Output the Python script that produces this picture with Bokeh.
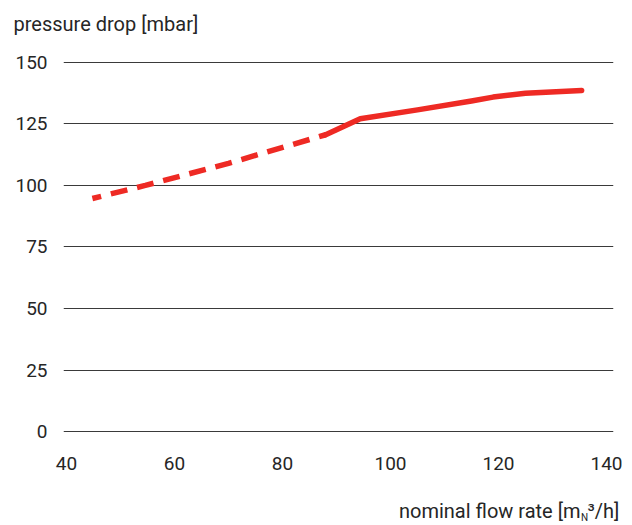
from bokeh.plotting import figure
from bokeh.models import Range1d, FixedTicker
from bokeh.layouts import column
from bokeh.core.properties import value
from bokeh.embed import file_html
from bokeh.resources import INLINE

# data
dash_x = [44.8, 54.6, 70, 88]
dash_y = [94.7, 100, 109, 120.6]
solid_x = [88, 94.4, 105, 115, 119, 125, 135.4]
solid_y = [120.6, 127.1, 130.7, 134.3, 135.9, 137.5, 138.6]
x_ticks = [40, 60, 80, 100, 120, 140]
y_ticks = [0, 25, 50, 75, 100, 125, 150]
y_title = "pressure drop [mbar]"
x_title_parts = ["nominal flow rate [m", "N", "³/h]"]

FONT = "Roboto"
RED = "#ee2a24"
TXT = "#262626"
W = 624


def text_fig(h):
    f = figure(width=W, height=h, output_backend="svg", toolbar_location=None,
               x_range=Range1d(0, W), y_range=Range1d(h, 0),
               min_border=0, min_border_left=0, min_border_right=0,
               min_border_top=0, min_border_bottom=0)
    f.axis.visible = False
    f.grid.visible = False
    f.outline_line_color = None
    return f


top = text_fig(40)
top.text(x=[13], y=[23], text=[y_title], text_font=value(FONT), text_font_size="20px",
         text_color=TXT, text_baseline="middle", text_align="left")

p = figure(width=W, height=440, output_backend="svg", toolbar_location=None,
           x_range=Range1d(39.45, 141.3), y_range=Range1d(-2.0, 152.8),
           min_border_left=63, min_border_right=11, min_border_top=15, min_border_bottom=44)
p.outline_line_color = None
p.xgrid.visible = False
p.ygrid.ticker = FixedTicker(ticks=y_ticks)
p.ygrid.grid_line_color = "#3a3a3a"
p.ygrid.grid_line_width = 1

for ax in (p.xaxis[0], p.yaxis[0]):
    ax.axis_line_color = None
    ax.major_tick_line_color = None
    ax.minor_tick_line_color = None
    ax.major_tick_out = 0
    ax.major_tick_in = 0
    ax.major_label_text_font = FONT
    ax.major_label_text_font_size = "19px"
    ax.major_label_text_color = TXT
p.xaxis.ticker = FixedTicker(ticks=x_ticks)
p.yaxis.ticker = FixedTicker(ticks=y_ticks)
p.xaxis.major_label_standoff = 20
p.yaxis.major_label_standoff = 16

p.line(dash_x, dash_y, line_color=RED, line_width=5.5, line_dash="17 10", line_dash_offset=8)
p.line(solid_x, solid_y, line_color=RED, line_width=5.5, line_cap="round", line_join="round")

bottom = text_fig(45)
bottom.text(x=[580], y=[30], text=[x_title_parts[0]], text_font=value(FONT), text_font_size="20px",
            text_color=TXT, text_baseline="middle", text_align="right")
bottom.text(x=[580.5], y=[37], text=[x_title_parts[1]], text_font=value(FONT), text_font_size="10px",
            text_color=TXT, text_baseline="middle", text_align="left")
bottom.text(x=[587], y=[30], text=[x_title_parts[2]], text_font=value(FONT), text_font_size="20px",
            text_color=TXT, text_baseline="middle", text_align="left")

layout = column(column(top), p, column(bottom), spacing=0)
open("out.html", "w").write(file_html(layout, INLINE))
